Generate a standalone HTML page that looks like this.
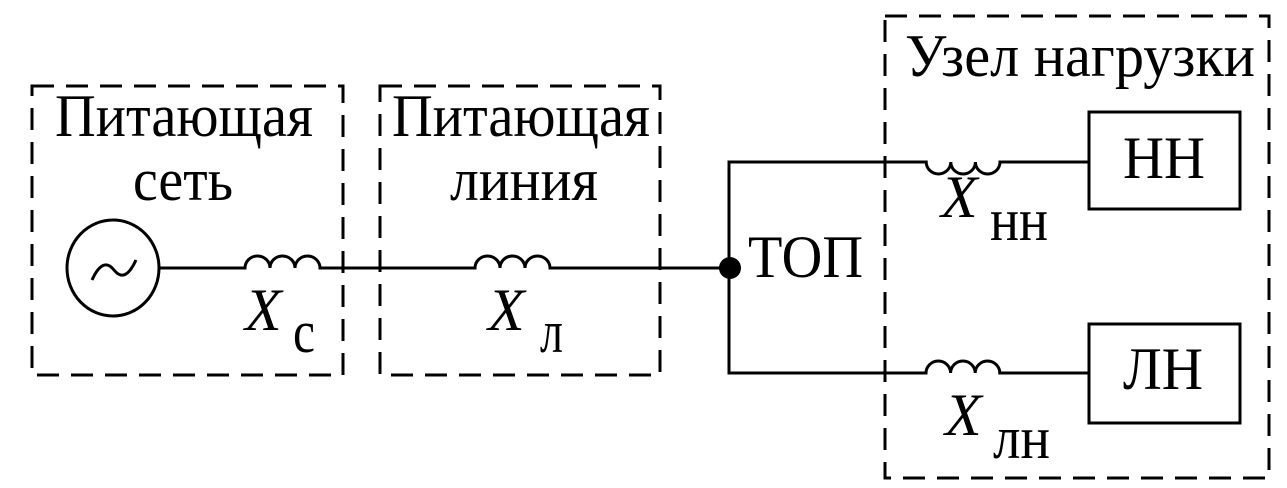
<!DOCTYPE html>
<html><head><meta charset="utf-8"><style>
html,body{margin:0;padding:0;background:#fff;}
svg{display:block;}
text{font-family:"Liberation Serif","DejaVu Serif",serif;fill:#000;}
</style></head><body>
<svg width="1287" height="488" viewBox="0 0 1287 488" xmlns="http://www.w3.org/2000/svg">
<g fill="none" stroke="#000" stroke-width="3" stroke-dasharray="22,12">
<rect x="32" y="86" width="311" height="289"/>
<rect x="380" y="86" width="280" height="289"/>
<rect x="885" y="16" width="384" height="462"/>
</g>
<g fill="none" stroke="#000" stroke-width="3">
<ellipse cx="113" cy="268" rx="46" ry="48"/>
<path d="M92,280 q11,-24 22,-10 q11,14 22,-10" stroke-width="3"/>
<path d="M159,268 H245 a12.5,12 0 0 1 25,0 a12.5,12 0 0 1 25,0 a12.5,12 0 0 1 25,0 H475 a12.5,12 0 0 1 25,0 a12.5,12 0 0 1 25,0 a12.5,12 0 0 1 25,0 H729"/>
<path d="M1089,162 H1000 a12.3,12 0 0 1 -24.6,0 a12.3,12 0 0 1 -24.6,0 a12.3,12 0 0 1 -24.6,0 H729 V373 H926 a12.3,12 0 0 1 24.6,0 a12.3,12 0 0 1 24.6,0 a12.3,12 0 0 1 24.6,0 H1089"/>
<rect x="1089" y="112" width="151" height="97"/>
<rect x="1089" y="324" width="151" height="99"/>
</g>
<circle cx="730" cy="268" r="11" fill="#000"/>
<g font-size="60">
<text x="55" y="136" textLength="258" lengthAdjust="spacingAndGlyphs">Питающая</text>
<text x="133" y="200" textLength="100" lengthAdjust="spacingAndGlyphs">сеть</text>
<text x="392" y="136" textLength="258" lengthAdjust="spacingAndGlyphs">Питающая</text>
<text x="450" y="200" textLength="148" lengthAdjust="spacingAndGlyphs">линия</text>
<text x="748" y="277" textLength="115" lengthAdjust="spacingAndGlyphs">ТОП</text>
<text x="905" y="76" textLength="350" lengthAdjust="spacingAndGlyphs">Узел нагрузки</text>
<text x="1123" y="178" textLength="82" lengthAdjust="spacingAndGlyphs">НН</text>
<text x="1123" y="389" textLength="80" lengthAdjust="spacingAndGlyphs">ЛН</text>
<text x="245" y="330" font-style="italic">X</text>
<text x="293" y="352" textLength="22" lengthAdjust="spacingAndGlyphs">с</text>
<text x="488" y="330" font-style="italic">X</text>
<text x="540" y="352" textLength="23" lengthAdjust="spacingAndGlyphs">л</text>
<text x="941" y="217" font-style="italic">X</text>
<text x="990" y="240" textLength="58" lengthAdjust="spacingAndGlyphs">нн</text>
<text x="945" y="435" font-style="italic">X</text>
<text x="993" y="458" textLength="57" lengthAdjust="spacingAndGlyphs">лн</text>
</g>
</svg>
</body></html>
